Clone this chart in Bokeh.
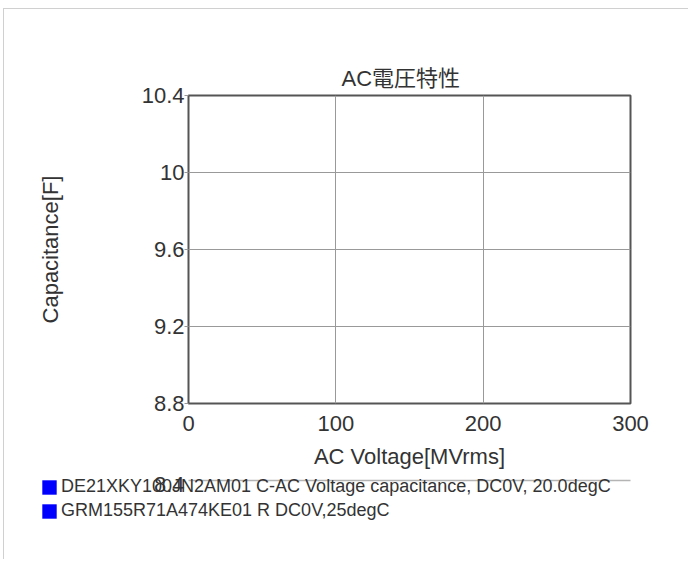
from bokeh.plotting import figure
from bokeh.layouts import column
from bokeh.models import (FixedTicker, CustomJSTickFormatter, LinearAxis, Range1d,
                          Legend, LegendItem, Label)
from bokeh.embed import file_html
from bokeh.resources import INLINE

# ---- chart content -------------------------------------------------------
title_text = "AC電圧特性"
x_label = "AC Voltage[MVrms]"
y_label = "Capacitance[F]"
x_ticks = [0, 100, 200, 300]
y_ticks = [8.8, 9.2, 9.6, 10, 10.4]
stray_dup_ticks = [8.8]              # doubled, slightly shifted 8.8 label
stray_low_ticks = [8.4]              # stray 8.4 label + grey rule under the chart
series_names = [
    "DE21XKY100JN2AM01 C-AC Voltage capacitance, DC0V, 20.0degC",
    "GRM155R71A474KE01 R DC0V,25degC",
]
series_colors = ["#0000ff", "#0000ff"]
series_x = [[], []]                  # the chart holds no data points
series_y = [[], []]

# ---- styling / layout constants --------------------------------------------
FONT = "'Liberation Sans', Arial, 'Noto Sans CJK JP', sans-serif"
TXT = "#333333"
OX, OY = 4, 9                        # canvas origin on the page (after margin+border)
FRAME_L, FRAME_T, FRAME_R, FRAME_B = 188, 95, 630, 403
TITLE_LEFT = 341
W = 684
H1, H2 = 467, 83                     # main chart canvas, legend strip canvas
SHIFT_PX = 4                         # vertical shift of the stray labels
LEG_X = 40                           # page x of legend's left edge

fmt = CustomJSTickFormatter(code="return String(Math.round(tick*10)/10);")

p = figure(width=W, height=H1,
           x_range=(x_ticks[0], x_ticks[-1]), y_range=(y_ticks[0], y_ticks[-1]),
           output_backend="svg", toolbar_location=None,
           min_border_left=FRAME_L - OX, min_border_right=W - (FRAME_R - OX),
           min_border_top=FRAME_T - OY, min_border_bottom=OY + H1 - FRAME_B)

p.background_fill_color = "white"
p.border_fill_color = "white"
p.outline_line_color = "#555555"
p.outline_line_width = 2

p.title.text = title_text
p.title.align = "left"
p.title.offset = TITLE_LEFT - FRAME_L
p.title.text_font = FONT
p.title.text_font_size = "22px"
p.title.text_font_style = "normal"
p.title.text_color = TXT
p.title.standoff = 10


def style_axis(ax):
    ax.axis_line_color = None
    ax.minor_tick_line_color = None
    ax.major_tick_in = 0
    ax.major_label_text_font = FONT
    ax.major_label_text_font_size = "22px"
    ax.major_label_text_color = TXT
    ax.axis_label_text_font = FONT
    ax.axis_label_text_font_size = "22px"
    ax.axis_label_text_font_style = "normal"
    ax.axis_label_text_color = TXT


xa, ya = p.xaxis[0], p.yaxis[0]
style_axis(xa)
style_axis(ya)
xa.ticker = FixedTicker(ticks=x_ticks)
xa.major_tick_line_color = None
xa.major_tick_out = 0
xa.major_label_standoff = 12
xa.axis_label = x_label
xa.axis_label_standoff = 10

ya.ticker = FixedTicker(ticks=y_ticks)
ya.formatter = fmt
ya.major_tick_line_color = "#999999"
ya.major_tick_out = 4
ya.major_label_standoff = 0
ya.axis_label = y_label
ya.axis_label_standoff = 76

p.xgrid.ticker = FixedTicker(ticks=x_ticks)
p.ygrid.ticker = FixedTicker(ticks=y_ticks)
p.grid.grid_line_color = "#999999"
p.grid.grid_line_width = 1

# doubled 8.8 label, a few pixels lower (second axis on a shifted range)
ppy = (FRAME_B - FRAME_T) / (y_ticks[-1] - y_ticks[0])
dy = SHIFT_PX / ppy
p.extra_y_ranges = {"shifted": Range1d(y_ticks[0] + dy, y_ticks[-1] + dy)}
ya2 = LinearAxis(y_range_name="shifted", fixed_location=x_ticks[0],
                 bounds=(min(stray_dup_ticks) - 0.2, max(stray_dup_ticks)),
                 ticker=FixedTicker(ticks=stray_dup_ticks), formatter=fmt)
style_axis(ya2)
ya2.major_tick_line_color = None
ya2.major_tick_out = 0
ya2.major_label_standoff = 4
p.add_layout(ya2, "left")

# ---- strip under the chart: stray 8.4 label + rule, and the legend ---------
ppx = (FRAME_R - FRAME_L) / (x_ticks[-1] - x_ticks[0])
x0 = x_ticks[0] - (FRAME_L - OX) / ppx
x1 = x_ticks[-1] + (OX + W - FRAME_R) / ppx
y_top = y_ticks[0] - (OY + H1 - FRAME_B) / ppy
y_bot = y_top - H2 / ppy
p2 = figure(width=W, height=H2, x_range=Range1d(x0, x1), y_range=Range1d(y_bot, y_top),
            output_backend="svg", toolbar_location=None,
            x_axis_location=None, y_axis_location=None,
            min_border=0, min_border_left=0, min_border_right=0,
            min_border_top=0, min_border_bottom=0)
p2.title.visible = False
p2.grid.visible = False
p2.outline_line_color = None
p2.background_fill_color = "white"
p2.border_fill_color = "white"

# keep the strip's frame independent of the chart's frame in the column
for fig in (p, p2):
    if "frame_align" in fig.properties():
        fig.frame_align = False

for yv in stray_low_ticks:
    p2.segment(x0=[x_ticks[0]], y0=[yv], x1=[x_ticks[-1]], y1=[yv],
               line_color="#b4b4b4", line_width=1.5)
    p2.add_layout(Label(x=x_ticks[0], y=yv - dy, text=f"{yv}", x_offset=-4,
                        text_align="right", text_baseline="middle",
                        text_font=FONT, text_font_size="22px", text_color=TXT))

items = []
nan = float("nan")
for name, col, xs, ys in zip(series_names, series_colors, series_x, series_y):
    xs_ = xs if xs else [nan]        # series are empty; NaN keeps the swatch drawable
    ys_ = ys if ys else [nan]
    r = p2.quad(left=xs_, right=xs_, top=ys_, bottom=ys_, fill_color=col, line_color=None)
    items.append(LegendItem(label=name, renderers=[r]))
LEG_H = 45
legend = Legend(items=items, location=(LEG_X - OX, H2 - LEG_H), orientation="vertical",
                border_line_color=None, background_fill_alpha=0,
                padding=0, margin=0, spacing=3,
                glyph_width=18, glyph_height=18, label_standoff=3,
                label_height=21,
                label_text_font=FONT, label_text_font_size="18px",
                label_text_color=TXT)
p2.add_layout(legend, "center")

page = column(p, p2, spacing=0,
              styles={"margin-top": "8px", "margin-left": "3px",
                      "border-top": "1px solid #d0d0d0",
                      "border-left": "1px solid #d0d0d0"})

open("out.html", "w").write(file_html(page, INLINE))
